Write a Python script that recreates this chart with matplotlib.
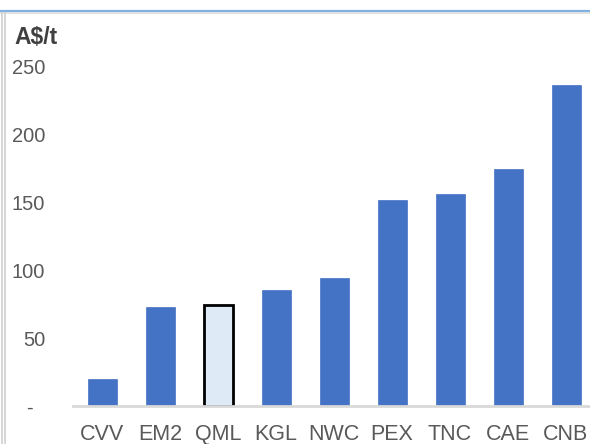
import matplotlib
matplotlib.use("Agg")
import matplotlib.pyplot as plt
from matplotlib.lines import Line2D

companies = ["CVV", "EM2", "QML", "KGL", "NWC", "PEX", "TNC", "CAE", "CNB"]
values = [19.6, 72.8, 74.5, 85.5, 94.3, 151.7, 155.6, 174.3, 236.2]
highlight = "QML"
y_ticks = [0, 50, 100, 150, 200, 250]
y_tick_labels = ["-  ", "50", "100", "150", "200", "250"]

plt.rcParams["font.family"] = ["Liberation Sans", "DejaVu Sans"]

W, H = 590, 444
fig = plt.figure(figsize=(W / 100, H / 100), dpi=100)
# axes spans past the right edge, like the cropped original
ax = fig.add_axes([73 / W, 38 / H, 522 / W, 340 / H])

face = ["#DEEBF7" if c == highlight else "#4472C4" for c in companies]
edge = ["black" if c == highlight else "#4472C4" for c in companies]
lw = [2.0 if c == highlight else 0.5 for c in companies]
ax.bar(companies, values, width=0.5, color=face, edgecolor=edge, linewidth=lw, zorder=2)

ax.set_xlim(-0.5, len(companies) - 0.5)
ax.set_ylim(0, 250)
ax.set_yticks(y_ticks)
ax.set_yticklabels(y_tick_labels)

for s in ["top", "right", "left"]:
    ax.spines[s].set_visible(False)
ax.spines["bottom"].set_color("#D9D9D9")
ax.spines["bottom"].set_linewidth(2)
ax.spines["bottom"].set_zorder(3)

ax.tick_params(axis="y", length=0, pad=20, labelsize=14.5, labelcolor="#595959")
ax.tick_params(axis="x", length=0, pad=13, labelsize=15.5, labelcolor="#595959")

fig.text(14 / W, 1 - 38 / H, "A$/t", fontsize=16.5, fontweight="bold", color="#404040",
         ha="left", va="center")

# frame lines of the original screenshot
fig.add_artist(Line2D([0, 1], [1 - 11 / H, 1 - 11 / H], transform=fig.transFigure,
                      color="#7FB2E0", linewidth=1.6))
fig.add_artist(Line2D([0, 1], [1 - 13.5 / H, 1 - 13.5 / H], transform=fig.transFigure,
                      color="#DDDDDD", linewidth=1.2))
for x in (1.5, 5.0):
    fig.add_artist(Line2D([x / W, x / W], [0, 1 - 13 / H], transform=fig.transFigure,
                          color="#D0D0D0", linewidth=1.2))

fig.savefig("out.png", dpi=100)
plt.close(fig)
